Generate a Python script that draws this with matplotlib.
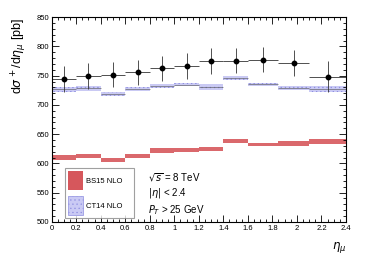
import matplotlib
matplotlib.use("Agg")
import matplotlib.pyplot as plt
from matplotlib.patches import Patch
from matplotlib.ticker import MultipleLocator
import numpy as np

plt.rcParams['font.family'] = ['Liberation Sans', 'DejaVu Sans']
plt.rcParams['hatch.linewidth'] = 0.4

# eta_mu bin edges (11 bins)
edges = [0, 0.2, 0.4, 0.6, 0.8, 1.0, 1.2, 1.4, 1.6, 1.85, 2.1, 2.4]

# measured d sigma+/d eta [pb]
data_val = [744, 749.5, 752, 755.5, 762.5, 766.5, 775, 775.5, 777, 772, 748.5]
data_err = [22, 21.5, 21, 21, 21.5, 21.5, 21.5, 21.5, 21.5, 21.8, 27]

# CT14 NLO band (centre, half-height)
ct14_val = [726.5, 728.5, 718.5, 727, 732.5, 734.5, 730.5, 745.5, 735.5, 729.5, 727]
ct14_err = [4, 4, 3, 3.5, 3.5, 3, 4.5, 3.5, 2.5, 3.5, 5]

# BS15 NLO band
bs15_val = [610.5, 613, 606.5, 613, 622, 623.5, 624.5, 638, 632.5, 634, 637.5]
bs15_err = [4.5, 3.5, 3.5, 3.5, 3.5, 3.5, 3.5, 3.5, 2.5, 3.5, 4.5]

edges = np.array(edges)
left = edges[:-1]
width = np.diff(edges)
centre = left + width / 2

red = "#d6575c"
blue_face = "#cacaf4"
blue_edge = "#8e8ee0"

fig = plt.figure(figsize=(3.68, 2.65), dpi=100)
ax = fig.add_axes([0.1405, 0.163, 0.7995, 0.772])

# BS15 band
ax.bar(left, 2 * np.array(bs15_err), width=width, bottom=np.array(bs15_val) - np.array(bs15_err),
       align="edge", color=red, edgecolor="none", alpha=0.9)
# CT14 band, hatched
ax.bar(left, 2 * np.array(ct14_err), width=width, bottom=np.array(ct14_val) - np.array(ct14_err),
       align="edge", facecolor=blue_face, edgecolor=blue_edge, hatch="....", linewidth=0)
ax.hlines(ct14_val, left, left + width, color="#555555", lw=0.7, alpha=0.6)

# data
ax.errorbar(centre, data_val, yerr=data_err, xerr=width / 2, fmt="o", color="black",
            ms=3.2, elinewidth=0.6, ecolor="#333333", capsize=0)

ax.set_xlim(0, 2.4)
ax.set_ylim(500, 850)
ax.xaxis.set_major_locator(MultipleLocator(0.2))
ax.xaxis.set_minor_locator(MultipleLocator(0.05))
ax.yaxis.set_major_locator(MultipleLocator(50))
ax.yaxis.set_minor_locator(MultipleLocator(10))
ax.xaxis.set_major_formatter(plt.FuncFormatter(lambda v, p: f"{v:g}"))
ax.tick_params(which="both", direction="in", top=True, right=True, labelsize=5.5, pad=2, width=0.6)
ax.tick_params(which="major", length=5)
ax.tick_params(which="minor", length=2.5)
for s in ax.spines.values():
    s.set_linewidth(0.8)

ax.set_ylabel(r"d$\sigma^+$/d$\eta_\mu$ [pb]", fontsize=9, loc="top", labelpad=5)
ax.set_xlabel(r"$\eta_\mu$", fontsize=8.5, loc="right", labelpad=6)

ax.text(0.327, 0.215, r"$\sqrt{s}$ = 8 TeV", transform=ax.transAxes, fontsize=7, va="center")
ax.text(0.327, 0.143, r"$|\eta|$ < 2.4", transform=ax.transAxes, fontsize=7, va="center")
ax.text(0.327, 0.059, r"$P_T$ > 25 GeV", transform=ax.transAxes, fontsize=7, va="center")

handles = [Patch(facecolor=red, edgecolor="none"),
           Patch(facecolor=blue_face, edgecolor=blue_edge, hatch="....", linewidth=0.5)]
leg = ax.legend(handles, ["BS15 NLO    ", "CT14 NLO    "], loc="lower left", bbox_to_anchor=(0.045, 0.02),
                fontsize=5.5, frameon=True, fancybox=False, edgecolor="#888888",
                handlelength=1.9, handleheight=3.3, labelspacing=0.9, borderpad=0.4,
                handletextpad=0.5, borderaxespad=0)
leg.get_frame().set_linewidth(0.8)

fig.savefig("out.png", dpi=100)
